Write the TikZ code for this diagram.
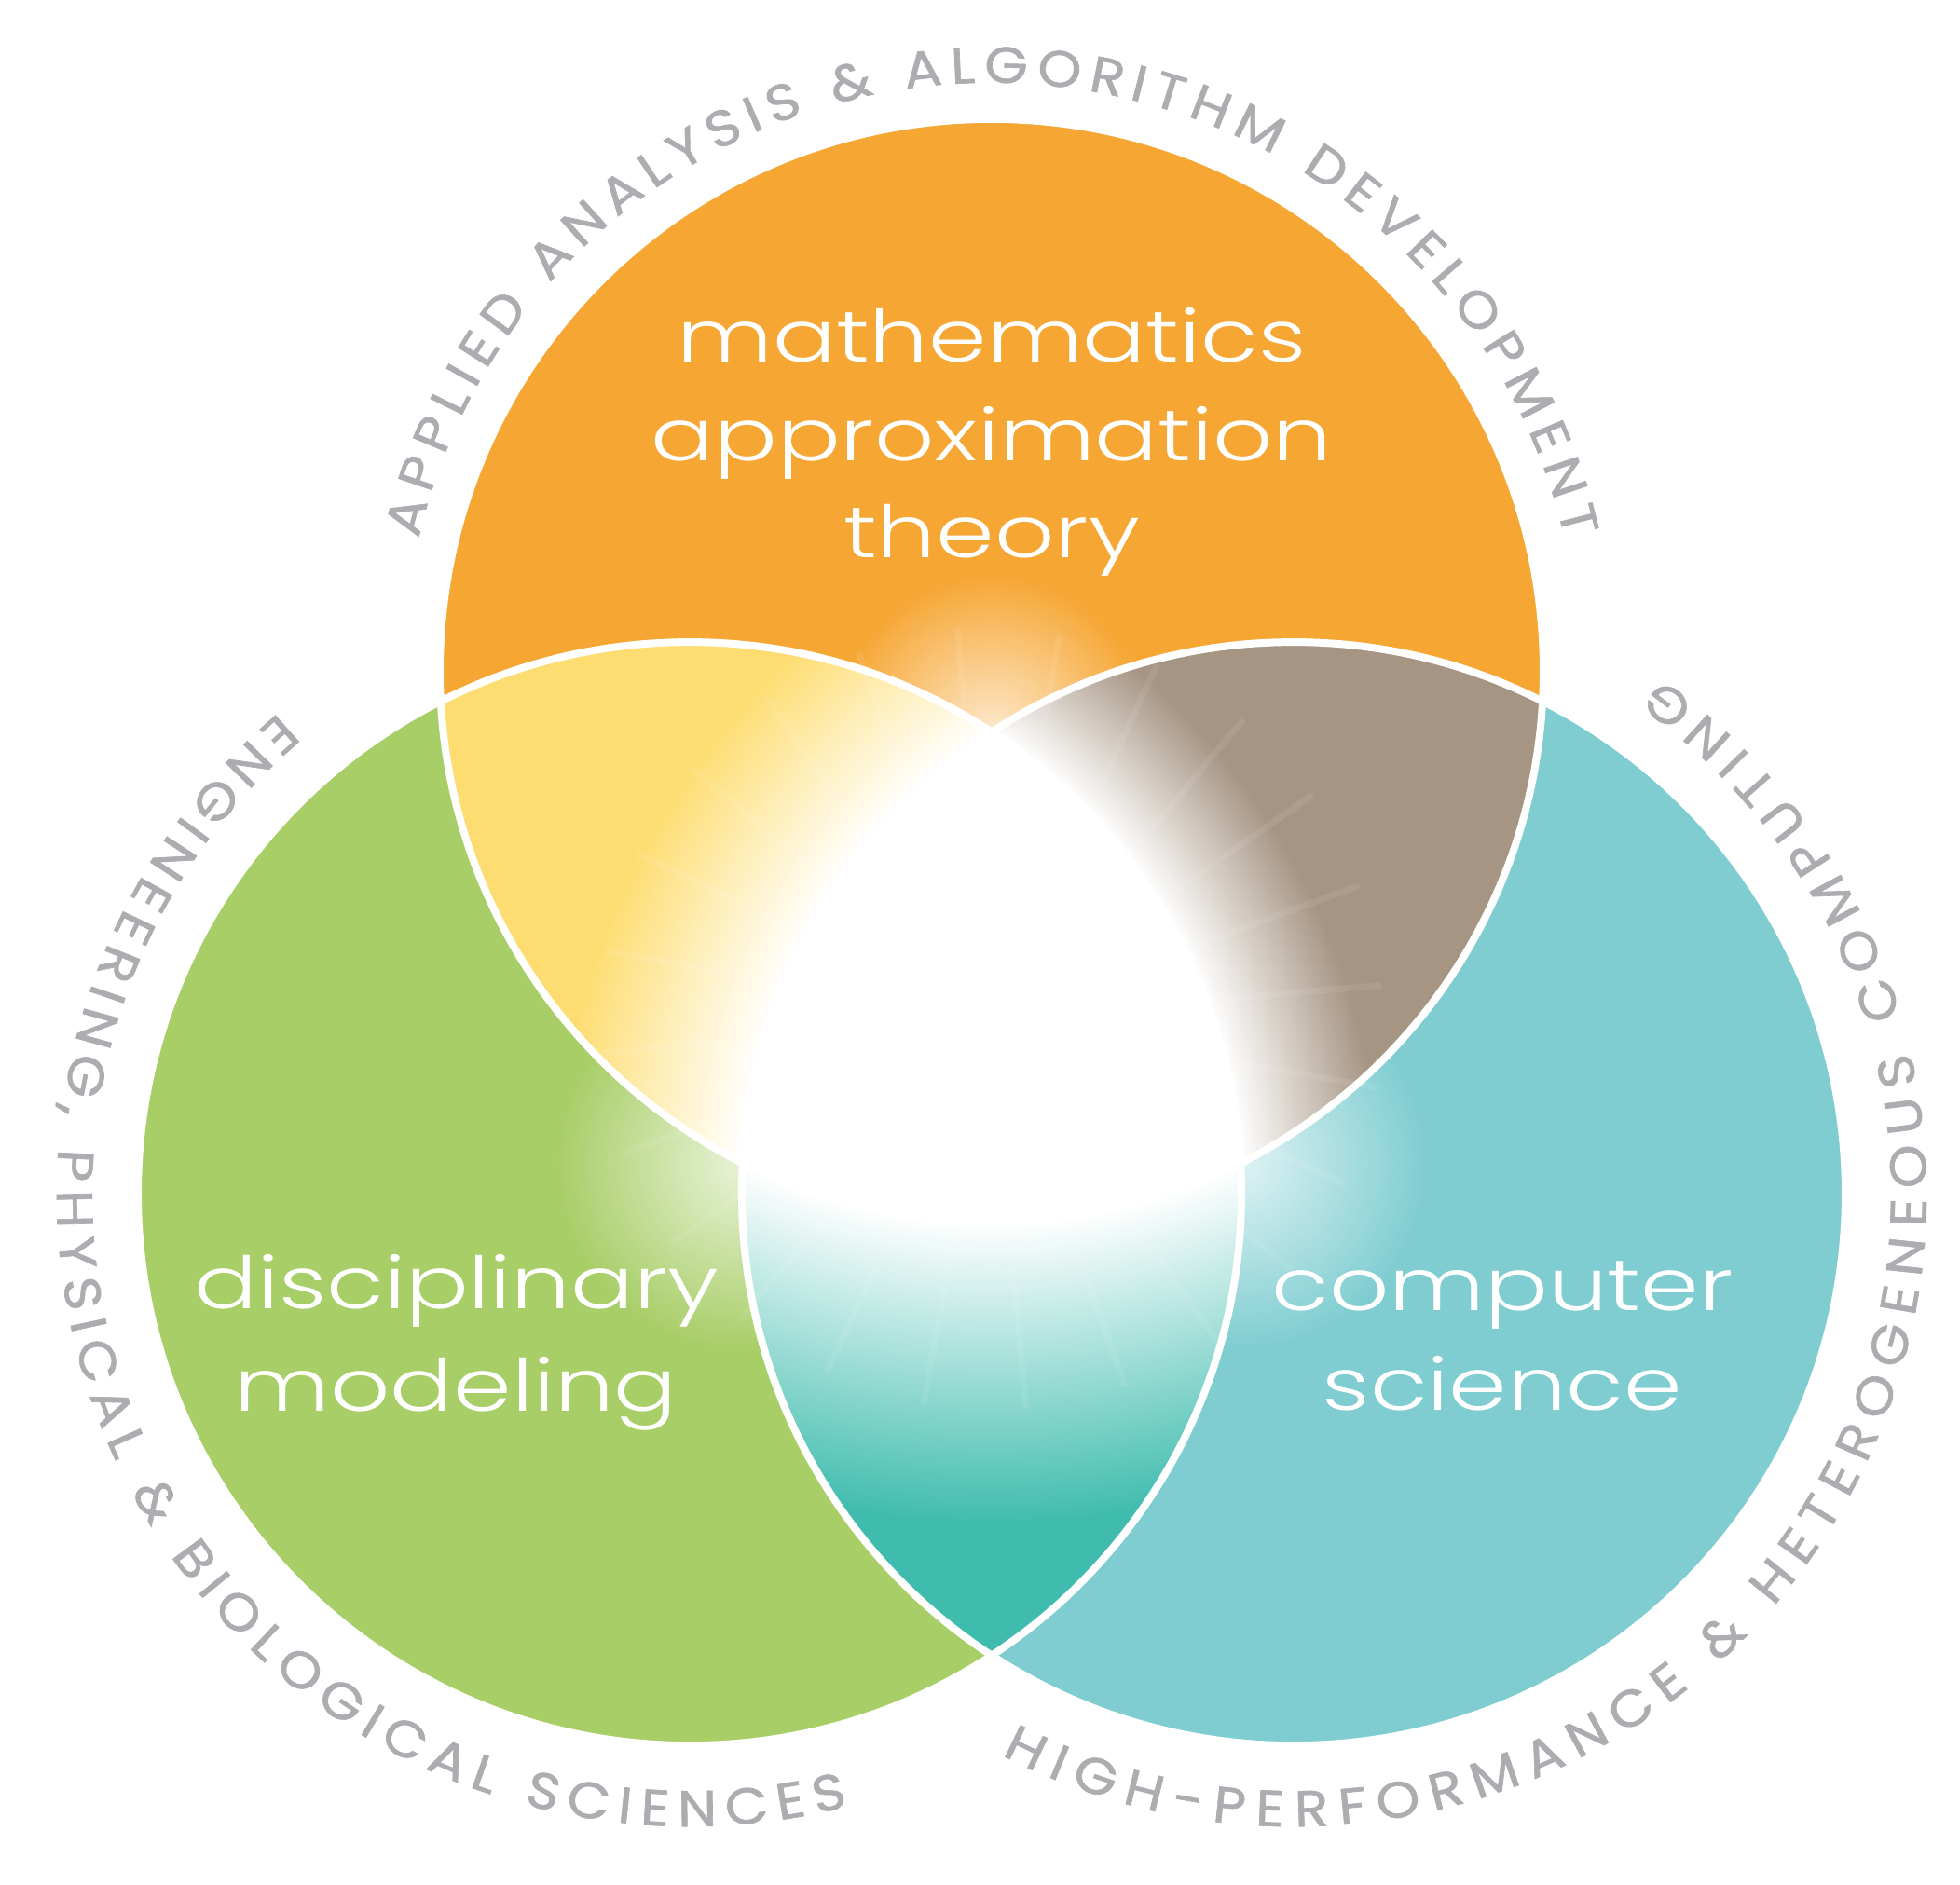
\documentclass[tikz,border=0pt]{standalone}
\usepackage{fontspec}
\usepackage{xcolor}
\usetikzlibrary{decorations.text}
\newfontfamily\labelfont[FakeStretch=1.3]{Poppins Light}
\newfontfamily\ringfont[FakeStretch=1.1,FakeBold=1.2]{Poppins}
\definecolor{mathorange}{HTML}{F6A633}
\definecolor{discgreen}{HTML}{A8CE68}
\definecolor{compcyan}{HTML}{7FCDD1}
\definecolor{lensyellow}{HTML}{FDDD72}
\definecolor{lensbrown}{HTML}{A69583}
\definecolor{lensteal}{HTML}{3FBCAE}
\definecolor{ringgray}{HTML}{ABADB0}
% 25bp = radius of the shaded circle (11cm), centred on the facing circle
\pgfdeclareradialshading{yellowglow}{\pgfpointorigin}{color(0bp)=(white); color(13.45bp)=(white); color(18bp)=(lensyellow); color(50bp)=(lensyellow)}
\pgfdeclareradialshading{brownglow}{\pgfpointorigin}{color(0bp)=(white); color(13.45bp)=(white); color(16.8bp)=(lensbrown); color(50bp)=(lensbrown)}
\pgfdeclareradialshading{tealglow}{\pgfpointorigin}{color(0bp)=(white); color(13.45bp)=(white); color(20.8bp)=(lensteal); color(50bp)=(lensteal)}

\begin{document}
\begin{tikzpicture}
      \tikzset{
        inlabel/.style={text=white, font=\labelfont\fontsize{22}{26}\selectfont,
                        anchor=base, inner sep=0pt},
        rim/.style={white, line width=0.8mm},
        ray/.style={white, opacity=0.08, line width=2pt},
        ringtext/.style={decorate, decoration={text along path, text align=fit to path,
                         text color=ringgray}}
      }

      % page and circle centres
      \fill[white] (-10.64,-9.28) rectangle (10.39,10.94);
      \useasboundingbox (-10.64,-9.28) rectangle (10.39,10.94);
      \coordinate (T) at (0,3.741);
      \coordinate (L) at (-3.24,-1.871);
      \coordinate (R) at (3.24,-1.871);
      \coordinate (vtop) at (90:3.08);
      \coordinate (vleft) at (210:3.08);
      \coordinate (vright) at (330:3.08);

      \fill[mathorange] (T) circle (5.92);
      \fill[discgreen] (L) circle (5.92);
      \fill[compcyan] (R) circle (5.92);

      % glow next to the inner corners
      \begin{scope}
        \clip (T) circle (5.92);
        \shade[inner color=white!75!mathorange, outer color=mathorange] (vtop) circle (1.7);
      \end{scope}
      \begin{scope}
        \clip (L) circle (5.92);
        \shade[inner color=white!75!discgreen, outer color=discgreen] (vleft) circle (2);
      \end{scope}
      \begin{scope}
        \clip (R) circle (5.92);
        \shade[inner color=white!75!compcyan, outer color=compcyan] (vright) circle (2);
      \end{scope}

      % lenses
      \begin{scope}
        \clip (T) circle (5.92); \clip (L) circle (5.92);
        \shade[shading=yellowglow] (R) circle (11);
      \end{scope}
      \begin{scope}
        \clip (T) circle (5.92); \clip (R) circle (5.92);
        \shade[shading=brownglow] (L) circle (11);
      \end{scope}
      \begin{scope}
        \clip (L) circle (5.92); \clip (R) circle (5.92);
        \shade[shading=tealglow] (T) circle (11);
      \end{scope}

      \foreach \a in {5,20,...,350}
        \draw[ray] (0,0) -- (\a:4.2);

      % centre
      \begin{scope}
        \clip (T) circle (5.92); \clip (L) circle (5.92);
        \fill[white] (R) circle (5.92);
      \end{scope}

      \draw[rim] (T) circle (5.92);
      \draw[rim] (L) circle (5.92);
      \draw[rim] (R) circle (5.92);

      \node[inlabel] (mathA) at (0,7.06) {mathematics};
      \node[inlabel] (mathB) at (0,6.00) {approximation};
      \node[inlabel] (mathC) at (0,4.96) {theory};
      \node[inlabel] (discA) at (-5.74,-3.10) {disciplinary};
      \node[inlabel] (discB) at (-5.75,-4.20) {modeling};
      \node[inlabel] (compA) at (5.48,-3.12) {computer};
      \node[inlabel] (compB) at (5.48,-4.19) {science};

      \path[ringtext, decoration={text={|\ringfont\fontsize{15.5}{18}\selectfont|APPLIED ANALYSIS {\&} ALGORITHM DEVELOPMENT}}]
        (T) ++(167:6.31) arc[start angle=167, end angle=13, radius=6.31];
      \path[ringtext, decoration={text={|\ringfont\fontsize{15.5}{18}\selectfont|ENGINEERING, PHYSICAL {\&} BIOLOGICAL SCIENCES}}]
        (L) ++(130.5:6.79) arc[start angle=130.5, end angle=284.5, radius=6.79];
      \path[ringtext, decoration={text={|\ringfont\fontsize{15.5}{18}\selectfont|HIGH-PERFORMANCE {\&} HETEROGENEOUS COMPUTING}}]
        (R) ++(242.5:6.79) arc[start angle=242.5, end angle=414.5, radius=6.79];

    \end{tikzpicture}
\end{document}
